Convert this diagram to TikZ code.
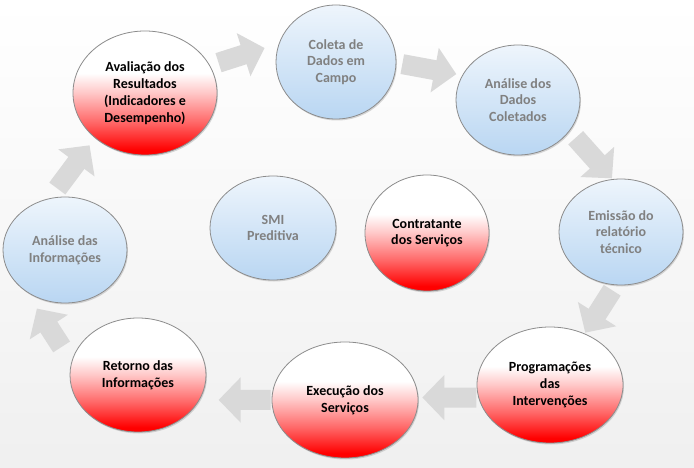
\documentclass[tikz,border=0pt]{standalone}
\usepackage{fontspec}
\setmainfont{Carlito}
\usetikzlibrary{shapes.geometric, arrows.meta, shadows}

\definecolor{bluetop}{HTML}{EEF5FC}
\definecolor{bluebot}{HTML}{B9D6F2}
\pgfdeclareverticalshading{redfade}{100bp}{color(0bp)=(red); color(27bp)=(red); color(38bp)=(red!60!white); color(50bp)=(red!22!white); color(58bp)=(white); color(100bp)=(white)}

\begin{document}
\begin{tikzpicture}[x=1pt, y=-1pt,
    font=\fontsize{14}{16.8}\selectfont\bfseries,
    ball/.style={ellipse, draw=black!45, line width=0.8pt, align=center, inner sep=0pt, drop shadow={shadow xshift=1pt, shadow yshift=-1.5pt, opacity=0.3}},
    bluenode/.style={ball, top color=bluetop, bottom color=bluebot, text=black!50},
    rednode/.style={ball, shade, shading=redfade, text=black},
    line/.style={draw=black!15, line width=20pt, -{Triangle[width=44pt, length=22pt]}}
]
\useasboundingbox (0,0) rectangle (694,468);
\fill [top color=white, bottom color=black!6] (0,0) rectangle (694,468);

\node [rednode, minimum width=144pt, minimum height=124pt] (aval) at (145,93) {Avaliação dos\\Resultados\\(Indicadores e\\Desempenho)};
\node [bluenode, minimum width=120pt, minimum height=114pt] (coleta) at (336,62) {Coleta de\\Dados em\\Campo};
\node [bluenode, minimum width=124pt, minimum height=110pt] (analise) at (518,100) {Análise dos\\Dados\\Coletados};
\node [bluenode, minimum width=124pt, minimum height=106pt] (emissao) at (621,232) {Emissão do\\relatório\\técnico};
\node [rednode, minimum width=146pt, minimum height=116pt] (prog) at (550,385) {Programações\\das\\Intervenções};
\node [rednode, minimum width=146pt, minimum height=116pt] (exec) at (345,400) {Execução dos\\Serviços};
\node [rednode, minimum width=136pt, minimum height=114pt] (retorno) at (138,375) {Retorno das\\Informações};
\node [bluenode, minimum width=124pt, minimum height=106pt] (info) at (65,250) {Análise das\\Informações};
\node [bluenode, minimum width=126pt, minimum height=104pt] (smi) at (273,228) {SMI\\Preditiva};
\node [rednode, minimum width=124pt, minimum height=116pt] (contr) at (427,233) {Contratante\\dos Serviços};

\path [line, shorten <=9pt, shorten >=15pt] (aval.23) -- (coleta.162);
\path [line, shorten <=6pt, shorten >=6pt] (coleta.-1) -- (analise.156);
\path [line, shorten <=9pt, shorten >=1pt] (analise.-31) -- (emissao.99);
\path [line, shorten <=6pt, shorten >=1pt] (emissao.264) -- (prog.56);
\path [line, shorten <=2pt, shorten >=4pt] (prog.190) -- (exec.2);
\path [line, shorten <=1pt, shorten >=19pt] (exec.180) -- (retorno.-22);
\path [line, shorten <=18pt, shorten >=20pt] (retorno.169) -- (info.227);
\path [line, shorten <=12pt, shorten >=9pt] (info.106) -- (aval.222);

\end{tikzpicture}
\end{document}
